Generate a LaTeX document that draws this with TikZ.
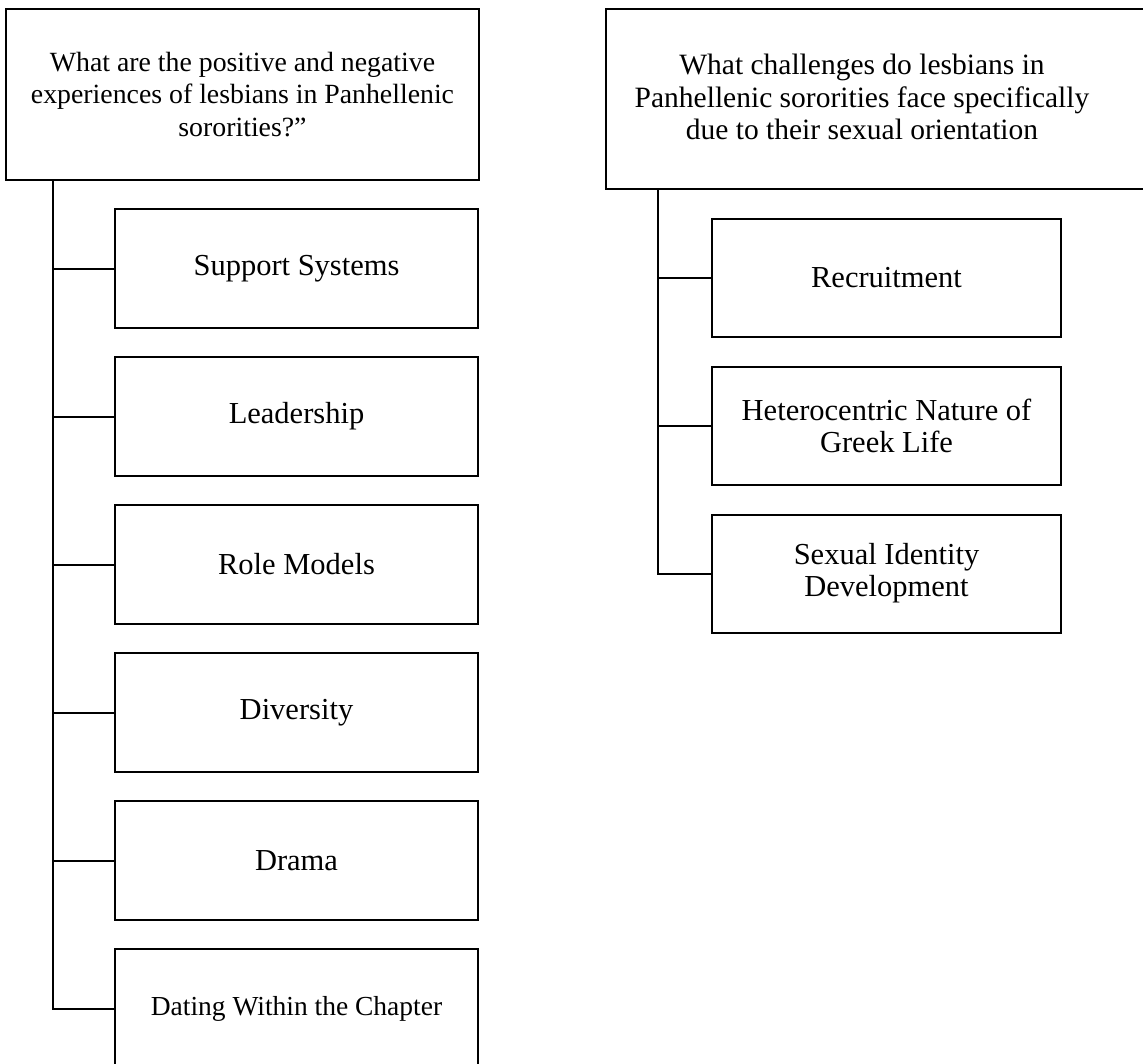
\documentclass[tikz,border=0pt]{standalone}
\usepackage{fontspec}
\setmainfont{Liberation Serif}
\begin{document}
\begin{tikzpicture}[x=1pt,y=-1pt,
  box/.style={draw, line width=2pt, rectangle, inner sep=0pt, align=center},
  lchild/.style={box, minimum width=363pt, minimum height=119pt, font=\fontsize{30.5}{32}\selectfont},
  rchild/.style={box, minimum width=349pt, minimum height=118pt, font=\fontsize{30.5}{32}\selectfont},
  link/.style={line width=2pt}]
\useasboundingbox (0,0) rectangle (1143,1063);
% left tree
\node[box, minimum width=473pt, minimum height=171pt, font=\fontsize{27.8}{32.5}\selectfont] (L) at (242.5,94.5)
  {What are the positive and negative\\experiences of lesbians in Panhellenic\\sororities?”};
\node[lchild] (c1) at (296.5,268.5) {Support Systems};
\node[lchild] (c2) at (296.5,416.5) {Leadership};
\node[lchild] (c3) at (296.5,564.5) {Role Models};
\node[lchild] (c4) at (296.5,712.5) {Diversity};
\node[lchild] (c5) at (296.5,860.5) {Drama};
\node[lchild, font=\fontsize{27.5}{32}\selectfont] (c6) at (296.5,1008.5) {Dating Within the Chapter};
\coordinate (lx) at (53,0);
\draw[link] (L.south -| lx) |- (c6.west);
\foreach \n in {c1,c2,c3,c4,c5} \draw[link] (lx |- \n.west) -- (\n.west);
% right tree
\node[box, minimum width=554pt, minimum height=180pt] (R) at (883,99) {};
\node[align=center, inner sep=0pt, font=\fontsize{29.5}{32.5}\selectfont] (Rt) at (862,97)
  {What challenges do lesbians in\\Panhellenic sororities face specifically\\due to their sexual orientation};
\node[rchild] (d1) at (886.5,278) {Recruitment};
\node[rchild] (d2) at (886.5,426) {Heterocentric Nature of\\Greek Life};
\node[rchild] (d3) at (886.5,573.5) {Sexual Identity\\Development};
\coordinate (rx) at (658,0);
\draw[link] (R.south -| rx) |- (d3.west);
\foreach \n in {d1,d2} \draw[link] (rx |- \n.west) -- (\n.west);
\end{tikzpicture}
\end{document}
